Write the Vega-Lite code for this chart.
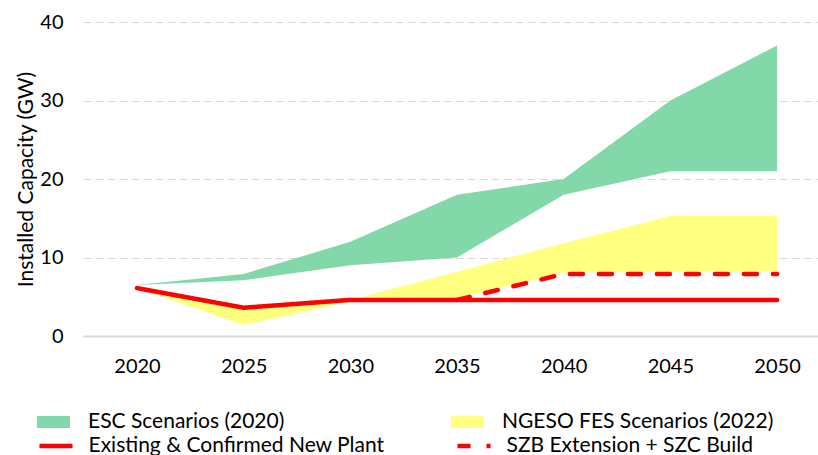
{
  "$schema": "https://vega.github.io/schema/vega-lite/v6.json",
  "width": 735,
  "height": 314,
  "autosize": {"type": "none"},
  "padding": {"left": 83, "top": 22, "right": 0, "bottom": 119},
  "config": {
    "view": {"stroke": null},
    "font": "Lato",
    "axis": {"labelFont": "Lato", "titleFont": "Lato", "labelColor": "#000000", "titleColor": "#000000"},
    "legend": {"labelFont": "Lato", "labelFontSize": 21, "labelColor": "#000000", "labelLimit": 600, "padding": 0}
  },
  "datasets": {
    "bands": [
      {"year": 2020, "series": "ESC Scenarios (2020)", "lo": 6.5, "hi": 6.5},
      {"year": 2025, "series": "ESC Scenarios (2020)", "lo": 7.1, "hi": 7.9},
      {"year": 2030, "series": "ESC Scenarios (2020)", "lo": 9.0, "hi": 12.0},
      {"year": 2035, "series": "ESC Scenarios (2020)", "lo": 10.0, "hi": 18.0},
      {"year": 2040, "series": "ESC Scenarios (2020)", "lo": 18.0, "hi": 20.0},
      {"year": 2045, "series": "ESC Scenarios (2020)", "lo": 21.0, "hi": 30.0},
      {"year": 2050, "series": "ESC Scenarios (2020)", "lo": 21.0, "hi": 37.0},
      {"year": 2020, "series": "NGESO FES Scenarios (2022)", "lo": 6.1, "hi": 6.1},
      {"year": 2025, "series": "NGESO FES Scenarios (2022)", "lo": 1.4, "hi": 3.5},
      {"year": 2030, "series": "NGESO FES Scenarios (2022)", "lo": 4.4, "hi": 4.6},
      {"year": 2035, "series": "NGESO FES Scenarios (2022)", "lo": 4.8, "hi": 8.2},
      {"year": 2040, "series": "NGESO FES Scenarios (2022)", "lo": 8.1, "hi": 11.8},
      {"year": 2045, "series": "NGESO FES Scenarios (2022)", "lo": 8.2, "hi": 15.3},
      {"year": 2050, "series": "NGESO FES Scenarios (2022)", "lo": 8.3, "hi": 15.3}
    ],
    "lines": [
      {"year": 2020, "series": "Existing & Confirmed New Plant", "value": 6.1},
      {"year": 2025, "series": "Existing & Confirmed New Plant", "value": 3.6},
      {"year": 2030, "series": "Existing & Confirmed New Plant", "value": 4.6},
      {"year": 2035, "series": "Existing & Confirmed New Plant", "value": 4.6},
      {"year": 2040, "series": "Existing & Confirmed New Plant", "value": 4.6},
      {"year": 2045, "series": "Existing & Confirmed New Plant", "value": 4.6},
      {"year": 2050, "series": "Existing & Confirmed New Plant", "value": 4.6},
      {"year": 2035, "series": "SZB Extension + SZC Build", "value": 4.6},
      {"year": 2040, "series": "SZB Extension + SZC Build", "value": 7.9},
      {"year": 2045, "series": "SZB Extension + SZC Build", "value": 7.9},
      {"year": 2050, "series": "SZB Extension + SZC Build", "value": 7.9}
    ]
  },
  "encoding": {
    "x": {
      "field": "year",
      "type": "quantitative",
      "scale": {"domain": [2017.47, 2051.92], "nice": false, "zero": false},
      "axis": {
        "values": [2020, 2025, 2030, 2035, 2040, 2045, 2050],
        "format": "d",
        "title": null,
        "grid": false,
        "ticks": false,
        "domainColor": "#d9d9d9",
        "domainWidth": 2,
        "labelFontSize": 20,
        "labelPadding": 20
      }
    }
  },
  "layer": [
    {
      "data": {"name": "bands"},
      "mark": {"type": "area", "opacity": 1},
      "encoding": {
        "y": {
          "field": "hi",
          "type": "quantitative",
          "scale": {"domain": [0, 40], "nice": false},
          "axis": {
            "values": [0, 10, 20, 30, 40],
            "title": "Installed Capacity (GW)",
            "titleFontSize": 21,
            "titleFontWeight": "normal",
            "titlePadding": 3,
            "grid": true,
            "gridDash": [8, 4],
            "gridColor": "#d9d9d9",
            "gridWidth": 1,
            "domain": false,
            "ticks": false,
            "labelFontSize": 20,
            "labelPadding": 20
          }
        },
        "y2": {"field": "lo"},
        "fill": {
          "field": "series",
          "type": "nominal",
          "scale": {
            "domain": ["ESC Scenarios (2020)", "NGESO FES Scenarios (2022)"],
            "range": ["#82d8a9", "#ffff80"]
          },
          "legend": {
            "orient": "none",
            "legendX": -46,
            "legendY": 385,
            "columns": 2,
            "title": null,
            "labelOffset": 18,
            "symbolType": "M-1,-0.37H1V0.37H-1Z",
            "symbolSize": 1089,
            "symbolStrokeWidth": 0,
            "symbolOpacity": 1,
            "clipHeight": 30,
            "rowPadding": 0,
            "columnPadding": 166
          }
        }
      }
    },
    {
      "data": {"name": "lines"},
      "mark": {"type": "line", "strokeWidth": 4.5, "strokeCap": "round", "strokeJoin": "round"},
      "encoding": {
        "y": {"field": "value", "type": "quantitative"},
        "stroke": {
          "field": "series",
          "type": "nominal",
          "scale": {
            "domain": ["Existing & Confirmed New Plant", "SZB Extension + SZC Build"],
            "range": ["#ff0000", "#ff0000"]
          },
          "legend": {
            "orient": "none",
            "legendX": -46,
            "legendY": 409,
            "columns": 2,
            "title": null,
            "labelOffset": 13.5,
            "symbolType": "stroke",
            "symbolSize": 1089,
            "symbolStrokeWidth": 4.5,
            "clipHeight": 30,
            "rowPadding": 0,
            "columnPadding": 70
          }
        },
        "strokeDash": {
          "field": "series",
          "type": "nominal",
          "scale": {
            "domain": ["Existing & Confirmed New Plant", "SZB Extension + SZC Build"],
            "range": [[1, 0], [13, 16]]
          },
          "legend": {
            "orient": "none",
            "legendX": -46,
            "legendY": 409,
            "columns": 2,
            "title": null,
            "labelOffset": 13.5,
            "symbolType": "stroke",
            "symbolSize": 1089,
            "symbolStrokeWidth": 4.5,
            "clipHeight": 30,
            "rowPadding": 0,
            "columnPadding": 70
          }
        }
      }
    }
  ]
}
